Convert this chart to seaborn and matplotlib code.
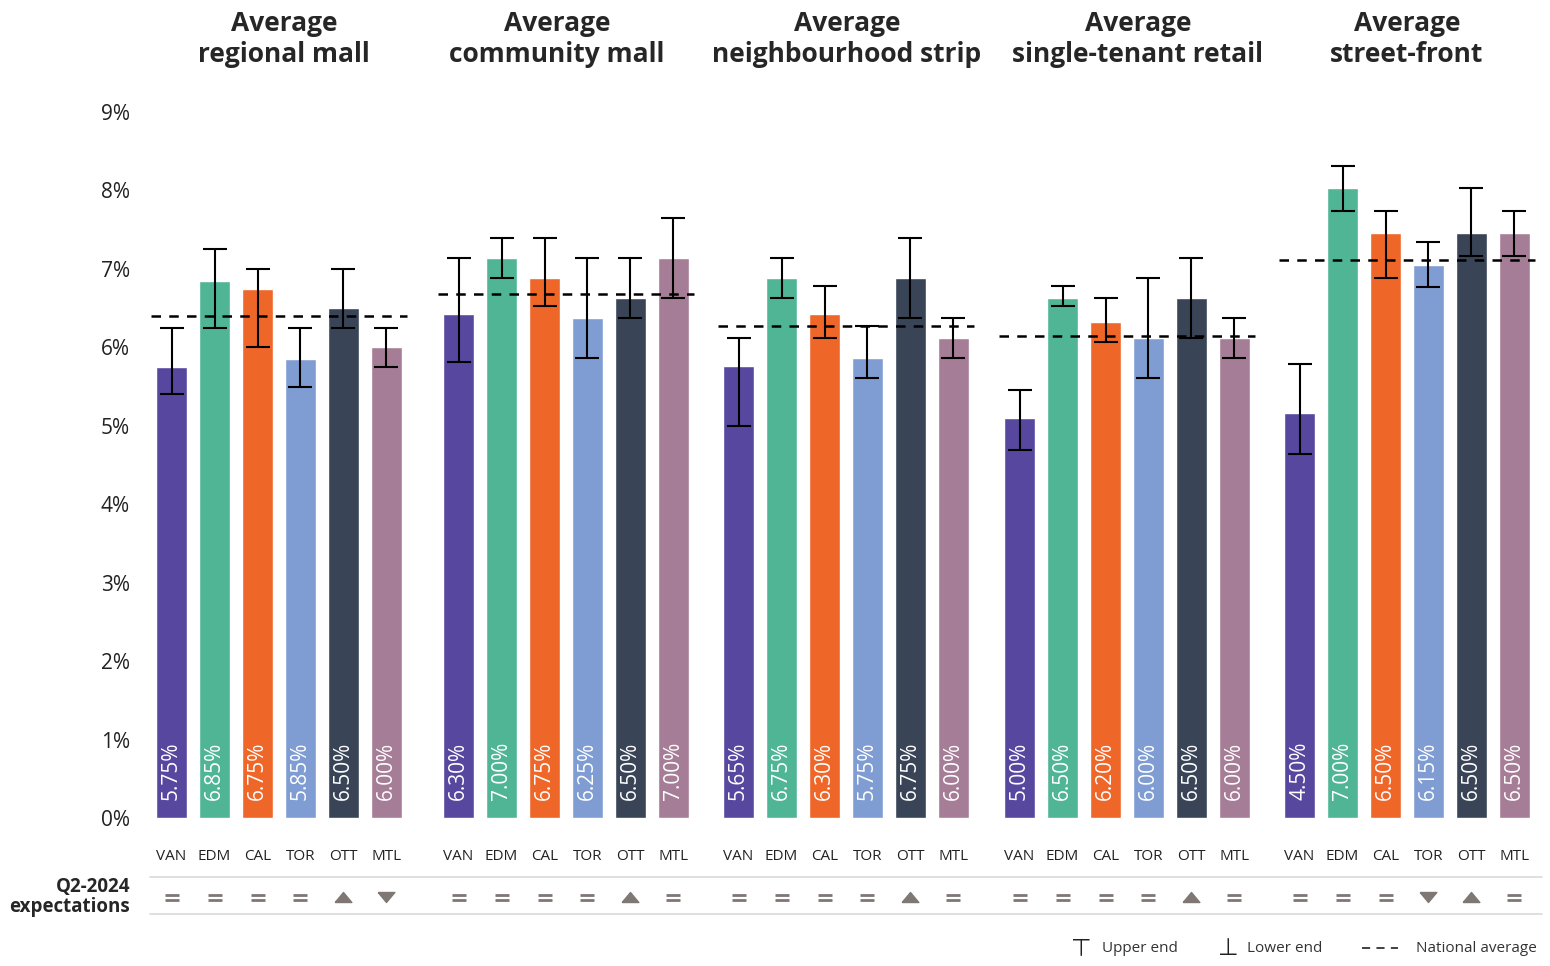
import numpy as np
import pandas as pd
import matplotlib
matplotlib.use("Agg")
import matplotlib.pyplot as plt
import matplotlib.transforms as mtransforms
from matplotlib.lines import Line2D
import seaborn as sns

# ---- data ----
cities = ["VAN", "EDM", "CAL", "TOR", "OTT", "MTL"]
city_colors = ["#58479E", "#4FB595", "#EF6629", "#7F9DD2", "#394457", "#A67D96"]

segments = ["Average\nregional mall", "Average\ncommunity mall",
            "Average\nneighbourhood strip", "Average\nsingle-tenant retail",
            "Average\nstreet-front"]

# cap rate (%) shown in each bar
rate_regional = [5.75, 6.85, 6.75, 5.85, 6.50, 6.00]
rate_community = [6.30, 7.00, 6.75, 6.25, 6.50, 7.00]
rate_strip = [5.65, 6.75, 6.30, 5.75, 6.75, 6.00]
rate_single = [5.00, 6.50, 6.20, 6.00, 6.50, 6.00]
rate_street = [4.50, 7.00, 6.50, 6.15, 6.50, 6.50]

# upper / lower end of the range
high_regional = [6.25, 7.25, 7.00, 6.25, 7.00, 6.25]
low_regional = [5.40, 6.25, 6.00, 5.50, 6.25, 5.75]
high_community = [7.00, 7.25, 7.25, 7.00, 7.00, 7.50]
low_community = [5.70, 6.75, 6.40, 5.75, 6.25, 6.50]
high_strip = [6.00, 7.00, 6.65, 6.15, 7.25, 6.25]
low_strip = [4.90, 6.50, 6.00, 5.50, 6.25, 5.75]
high_single = [5.35, 6.65, 6.50, 6.75, 7.00, 6.25]
low_single = [4.60, 6.40, 5.95, 5.50, 6.00, 5.75]
high_street = [5.05, 7.25, 6.75, 6.40, 7.00, 6.75]
low_street = [4.05, 6.75, 6.00, 5.90, 6.25, 6.25]

national_avg = [6.40, 6.55, 6.15, 6.03, 6.20]

# Q2-2024 expectations
exp_regional = ["=", "=", "=", "=", "up", "down"]
exp_community = ["=", "=", "=", "=", "up", "="]
exp_strip = ["=", "=", "=", "=", "up", "="]
exp_single = ["=", "=", "=", "=", "up", "="]
exp_street = ["=", "=", "=", "down", "up", "="]

rates = [rate_regional, rate_community, rate_strip, rate_single, rate_street]
highs = [high_regional, high_community, high_strip, high_single, high_street]
lows = [low_regional, low_community, low_strip, low_single, low_street]
expectations = [exp_regional, exp_community, exp_strip, exp_single, exp_street]

rows = []
for seg, r in zip(segments, rates):
    for c, v in zip(cities, r):
        rows.append({"segment": seg, "city": c, "rate": v})
df = pd.DataFrame(rows)

# ---- style ----
sns.set_theme(style="white")
plt.rcParams['font.family'] = ['Open Sans', 'DejaVu Sans']

W, H = 1550, 966
fig = plt.figure(figsize=(W / 100, H / 100), dpi=100)

panel_centers = [279, 566, 846, 1127, 1407]   # px
title_shift = [5, -9, 1, 11, 0]                # px
panel_w = 262
y_top = [9.0, 8.83, 8.83, 8.83, 7.85]         # each panel has its own scale
sym_grey = "#7F7774"
y_sym = (H - 897) / H

tri_up = [(-1, -0.6), (1, -0.6), (0, 0.6), (-1, -0.6)]
tri_down = [(-1, 0.6), (1, 0.6), (0, -0.6), (-1, 0.6)]

for k, seg in enumerate(segments):
    ax = fig.add_axes([(panel_centers[k] - panel_w / 2) / W, (H - 818) / H,
                       panel_w / W, 706 / H])
    sub = df[df["segment"] == seg]
    sns.barplot(data=sub, x="city", y="rate", hue="city", order=cities,
                hue_order=cities, palette=city_colors, saturation=1,
                width=0.72, legend=False, errorbar=None, ax=ax)

    r = np.array(rates[k])
    lo = np.array(lows[k])
    hi = np.array(highs[k])
    ax.errorbar(np.arange(6), r, yerr=[r - lo, hi - r], fmt="none",
                ecolor="black", elinewidth=1.5, capsize=8.5, capthick=1.5, zorder=4)
    ax.hlines(national_avg[k], -0.48, 5.48, colors="black", lw=1.8,
              linestyles=(0, (3.8, 3.3)), zorder=5)

    trans = mtransforms.blended_transform_factory(ax.transData, ax.transAxes)
    for i, v in enumerate(r):
        ax.text(i, 0.025, f"{v:.2f}%", transform=trans, rotation=90,
                ha="center", va="bottom", color="white", fontsize=15)

    # expectations row
    trans_f = mtransforms.blended_transform_factory(ax.transData, fig.transFigure)
    for i, e in enumerate(expectations[k]):
        if e == "=":
            ax.plot([i, i], [(H - 894.5) / H, (H - 899.5) / H], ls="none", marker="_",
                    ms=10, mew=2.0, color=sym_grey, transform=trans_f, clip_on=False)
        else:
            ax.plot([i], [y_sym], ls="none", marker=tri_up if e == "up" else tri_down,
                    ms=12, color=sym_grey, transform=trans_f, clip_on=False)

    ax.set_xlim(-0.55, 5.55)
    ax.set_ylim(0, y_top[k])
    ax.set_xlabel("")
    ax.set_ylabel("")
    ax.tick_params(axis="x", length=0, pad=22, labelsize=11, labelcolor="#222222")
    if k == 0:
        ax.set_yticks(range(10))
        ax.set_yticklabels([f"{i}%" for i in range(10)])
        ax.tick_params(axis="y", length=0, pad=13, labelsize=15, labelcolor="#222222")
    else:
        ax.set_yticks([])
    ax.set_title(seg, fontsize=19, fontweight="bold", pad=36, linespacing=1.2,
                 x=0.5 + title_shift[k] / panel_w)
    sns.despine(ax=ax, left=True, bottom=True)

# separators of the expectations row
for yp in [877, 914]:
    fig.add_artist(Line2D([150 / W, 1542 / W], [(H - yp) / H] * 2,
                          color="#D9D9D9", lw=1.2))
fig.text(130 / W, y_sym, "Q2-2024\nexpectations", ha="right", va="center",
         fontsize=13.5, fontweight="bold", linespacing=1.05)

# legend
y_leg = (H - 948) / H
fig.text(1081 / W, y_leg, "⊤", ha="center", va="center", fontsize=17,
         family=["DejaVu Sans"], color="#222222")
fig.text(1102 / W, y_leg, "Upper end", ha="left", va="center", fontsize=11, color="#333333")
fig.text(1228 / W, y_leg, "⊥", ha="center", va="center", fontsize=17,
         family=["DejaVu Sans"], color="#222222")
fig.text(1247 / W, y_leg, "Lower end", ha="left", va="center", fontsize=11, color="#333333")
fig.add_artist(Line2D([1362 / W, 1398 / W], [y_leg, y_leg], color="#333333",
                      lw=1.3, dashes=(4.5, 3.5)))
fig.text(1416 / W, y_leg, "National average", ha="left", va="center", fontsize=11,
         color="#333333")

fig.savefig("out.png", dpi=100, facecolor="white")
